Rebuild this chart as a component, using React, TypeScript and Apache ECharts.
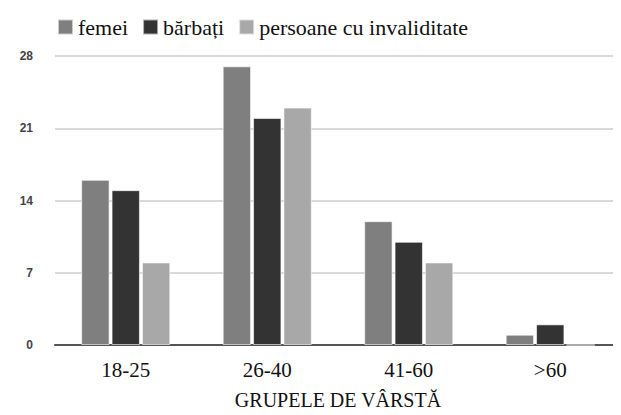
import React, { useEffect, useRef } from "react";
import * as echarts from "echarts";

const ageGroups = ["18-25", "26-40", "41-60", ">60"];
const seriesNames = ["femei", "bărbați", "persoane cu invaliditate"];
const femei = [16, 27, 12, 1];
const barbati = [15, 22, 10, 2];
const invaliditate = [8, 23, 8, 0];
const yTicks = [0, 7, 14, 21, 28];

const seriesColors = ["#7f7f7f", "#333333", "#a8a8a8"];
const serif = "'Liberation Serif', 'DejaVu Serif', 'Noto Serif', serif";
const sans = "'Liberation Sans', Arial, sans-serif";

export default function App() {
  const ref = useRef<HTMLDivElement>(null);

  useEffect(() => {
    if (!ref.current) return;
    const chart = echarts.init(ref.current, null, { renderer: "svg" });
    const barStyle = (color: string) => ({
      color,
      borderColor: "rgba(255,255,255,0.6)",
      borderWidth: 1,
    });
    chart.setOption({
      animation: false,
      backgroundColor: "#ffffff",
      textStyle: { fontFamily: serif },
      legend: {
        top: 11,
        left: 52,
        itemWidth: 15,
        itemHeight: 15,
        itemGap: 14,
        icon: "rect",
        textStyle: { fontFamily: serif, fontSize: 22, color: "#111" },
        data: seriesNames,
      },
      grid: { left: 55, right: 0, top: 56, bottom: 70, outerBoundsMode: "none" },
      xAxis: {
        type: "category",
        data: ageGroups,
        name: "GRUPELE DE VÂRSTĂ",
        nameLocation: "middle",
        nameGap: 45,
        nameTextStyle: { fontFamily: serif, fontSize: 20, color: "#111" },
        axisLine: { lineStyle: { color: "#555", width: 2 } },
        axisTick: { show: false },
        axisLabel: { fontFamily: serif, fontSize: 21, color: "#111", margin: 14 },
      },
      yAxis: {
        type: "value",
        min: yTicks[0],
        max: yTicks[yTicks.length - 1],
        interval: 7,
        axisLine: { show: false },
        axisTick: { show: false },
        axisLabel: {
          fontFamily: sans,
          fontSize: 12,
          color: "#444",
          fontWeight: "bold",
          margin: 22,
        },
        splitLine: { lineStyle: { color: "#d9d9d9", width: 2 } },
      },
      series: [
        {
          name: seriesNames[0],
          type: "bar",
          data: femei,
          barGap: "7%",
          barCategoryGap: "37%",
          itemStyle: barStyle(seriesColors[0]),
        },
        {
          name: seriesNames[1],
          type: "bar",
          data: barbati,
          itemStyle: barStyle(seriesColors[1]),
        },
        {
          name: seriesNames[2],
          type: "bar",
          data: invaliditate,
          itemStyle: barStyle(seriesColors[2]),
        },
      ],
    });
    return () => chart.dispose();
  }, []);

  return <div ref={ref} style={{ width: 621, height: 415, margin: -8 }} />;
}
